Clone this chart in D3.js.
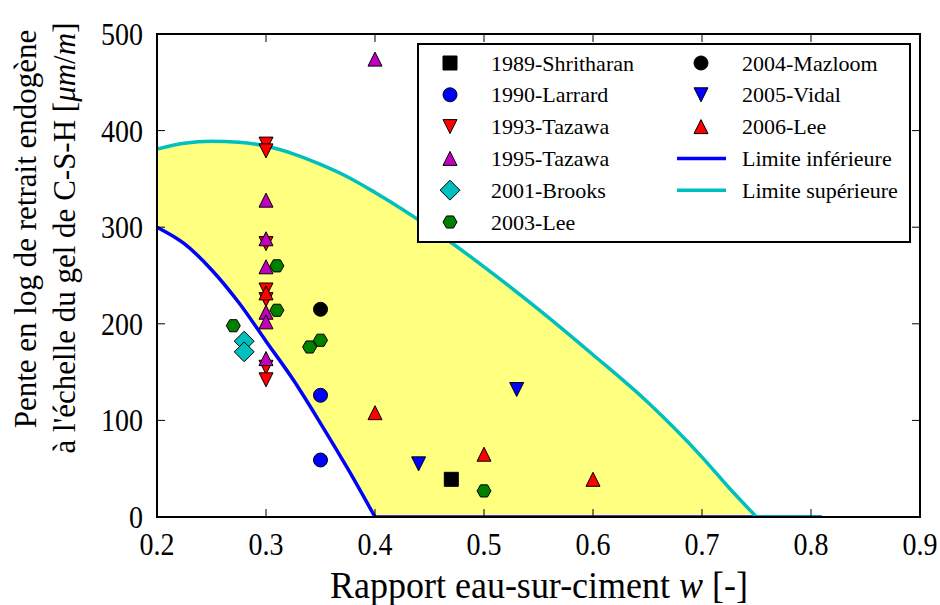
<!DOCTYPE html>
<html>
<head>
<meta charset="utf-8">
<script src="https://cdn.jsdelivr.net/npm/d3@7"></script>
<style>
	body { margin: 0; background: #fff; }
</style>
</head>
<body>
<div class="chart"></div>
<script>
// limits
const wGrid = [0.2, 0.225, 0.25, 0.275, 0.3, 0.325, 0.35, 0.375, 0.4, 0.45, 0.5, 0.55, 0.6, 0.65, 0.7, 0.725, 0.75, 0.81];
const limiteInf = [300, 283, 256, 222, 182, 142, 97, 50, 0, 0, 0, 0, 0, 0, 0, 0, 0, 0];
const limiteSup = [381, 387, 389, 388, 384, 376, 365, 352, 336, 300, 259, 215, 168, 119, 62, 30, 0, 0];

const xTicks = [0.2, 0.3, 0.4, 0.5, 0.6, 0.7, 0.8, 0.9];
const yTicks = [0, 100, 200, 300, 400, 500];

// measured points [w, pente]
const shritharan1989 = [[0.47, 39]];
const larrard1990 = [[0.35, 126], [0.35, 59]];
const tazawa1993 = [[0.3, 386], [0.3, 379], [0.3, 283], [0.3, 235], [0.3, 225], [0.3, 155], [0.3, 142]];
const tazawa1995 = [[0.4, 474], [0.3, 328], [0.3, 288], [0.3, 259], [0.3, 212], [0.3, 202], [0.3, 164]];
const brooks2001 = [[0.28, 182], [0.28, 171]];
const lee2003 = [[0.31, 260], [0.31, 214], [0.27, 198], [0.35, 183], [0.34, 176], [0.5, 27]];
const mazloom2004 = [[0.35, 215]];
const vidal2005 = [[0.53, 132], [0.44, 55]];
const lee2006 = [[0.3, 232], [0.4, 108], [0.5, 65], [0.6, 39]];

(function () {
	drawChart();
}());

// marker shapes, size = full width in px
function markerPath(kind, s) {
	const h = s / 2;
	const p = d3.path();
	if (kind === "square") {
		p.rect(-h, -h, s, s);
	} else if (kind === "circle") {
		p.moveTo(h, 0);
		p.arc(0, 0, h, 0, 2 * Math.PI);
	} else if (kind === "triUp") {
		p.moveTo(0, -h); p.lineTo(h, h); p.lineTo(-h, h); p.closePath();
	} else if (kind === "triDown") {
		p.moveTo(0, h); p.lineTo(h, -h); p.lineTo(-h, -h); p.closePath();
	} else if (kind === "diamond") {
		const d = s * 0.71;
		p.moveTo(0, -d); p.lineTo(d, 0); p.lineTo(0, d); p.lineTo(-d, 0); p.closePath();
	} else if (kind === "hexagon") {
		for (let i = 0; i < 6; i++) {
			const a = i * Math.PI / 3;
			if (i === 0) p.moveTo(h * Math.cos(a), h * Math.sin(a));
			else p.lineTo(h * Math.cos(a), h * Math.sin(a));
		}
		p.closePath();
	}
	return p.toString();
}

function drawChart() {

	const widthSVG = 940,
		heightSVG = 605;
	const plot = {left: 157, right: 920, top: 34, bottom: 517};
	const markerSize = 14;
	const serif = "'Liberation Serif', 'DejaVu Serif', serif";
	// the axis texts of the original are drawn a bit tall and narrow
	const stretch = 1.15;

	const series = [
		{name: "1989-Shritharan", data: shritharan1989, shape: "square", color: "#000000"},
		{name: "1990-Larrard", data: larrard1990, shape: "circle", color: "#0000ff"},
		{name: "1993-Tazawa", data: tazawa1993, shape: "triDown", color: "#ff0000"},
		{name: "1995-Tazawa", data: tazawa1995, shape: "triUp", color: "#bf00bf"},
		{name: "2001-Brooks", data: brooks2001, shape: "diamond", color: "#00bfbf"},
		{name: "2003-Lee", data: lee2003, shape: "hexagon", color: "#008000"},
		{name: "2004-Mazloom", data: mazloom2004, shape: "circle", color: "#000000"},
		{name: "2005-Vidal", data: vidal2005, shape: "triDown", color: "#0000ff"},
		{name: "2006-Lee", data: lee2006, shape: "triUp", color: "#ff0000"}
	];

	const svg = d3.select(".chart").append("svg")
		.attr("width", widthSVG)
		.attr("height", heightSVG)
		.attr("font-family", serif);

	const x = d3.scaleLinear().domain([0.2, 0.9]).range([plot.left, plot.right]);
	const y = d3.scaleLinear().domain([0, 500]).range([plot.bottom, plot.top]);

	svg.append("clipPath").attr("id", "plotClip")
		.append("rect")
		.attr("x", plot.left).attr("y", plot.top)
		.attr("width", plot.right - plot.left).attr("height", plot.bottom - plot.top);

	const chart = svg.append("g").attr("clip-path", "url(#plotClip)");

	// split each limit into its curved part and the flat part at zero
	function split(values) {
		const pts = wGrid.map(function (w, i) { return [w, values[i]]; });
		const k = values.indexOf(0);
		return {curved: pts.slice(0, k + 1), flat: pts.slice(k)};
	}
	const inf = split(limiteInf);
	const sup = split(limiteSup);

	const curve = d3.line()
		.x(function (d) { return x(d[0]); })
		.y(function (d) { return y(d[1]); })
		.curve(d3.curveMonotoneX);
	const straight = d3.line()
		.x(function (d) { return x(d[0]); })
		.y(function (d) { return y(d[1]); });
	const under = d3.area()
		.x(function (d) { return x(d[0]); })
		.y0(y(0))
		.y1(function (d) { return y(d[1]); })
		.curve(d3.curveMonotoneX);

	// yellow band = under the upper limit minus under the lower limit
	chart.append("path").attr("d", under(sup.curved)).attr("fill", "#ffff80");
	chart.append("path").attr("d", under(inf.curved)).attr("fill", "#ffffff");

	chart.append("path")
		.attr("d", curve(inf.curved) + straight(inf.flat).replace(/^M/, "L"))
		.attr("fill", "none").attr("stroke", "#0000ff").attr("stroke-width", 3.5);
	chart.append("path")
		.attr("d", curve(sup.curved) + straight(sup.flat).replace(/^M/, "L"))
		.attr("fill", "none").attr("stroke", "#00bfbf").attr("stroke-width", 3.5);

	series.forEach(function (s) {
		chart.selectAll(null)
			.data(s.data)
			.enter().append("path")
			.attr("d", markerPath(s.shape, markerSize))
			.attr("transform", function (d) { return "translate(" + x(d[0]) + "," + y(d[1]) + ")"; })
			.attr("fill", s.color)
			.attr("stroke", "#000")
			.attr("stroke-width", 1);
	});

	// ticks inside on all four sides
	const tickLen = 8;
	const ticks = svg.append("g").attr("stroke", "#000").attr("stroke-width", 1);
	xTicks.forEach(function (t) {
		ticks.append("line").attr("x1", x(t)).attr("x2", x(t)).attr("y1", plot.bottom).attr("y2", plot.bottom - tickLen);
		ticks.append("line").attr("x1", x(t)).attr("x2", x(t)).attr("y1", plot.top).attr("y2", plot.top + tickLen);
	});
	yTicks.forEach(function (t) {
		ticks.append("line").attr("x1", plot.left).attr("x2", plot.left + tickLen).attr("y1", y(t)).attr("y2", y(t));
		ticks.append("line").attr("x1", plot.right).attr("x2", plot.right - tickLen).attr("y1", y(t)).attr("y2", y(t));
	});

	svg.append("rect")
		.attr("x", plot.left).attr("y", plot.top)
		.attr("width", plot.right - plot.left).attr("height", plot.bottom - plot.top)
		.attr("fill", "none").attr("stroke", "#000").attr("stroke-width", 2);

	// tick labels
	svg.selectAll(".xlab")
		.data(xTicks)
		.enter().append("text")
		.attr("class", "xlab")
		.attr("transform", function (d) { return "translate(" + x(d) + ",555) scale(1," + stretch + ")"; })
		.attr("text-anchor", "middle")
		.attr("font-size", 28)
		.text(function (d) { return d3.format(".1f")(d); });

	svg.selectAll(".ylab")
		.data(yTicks)
		.enter().append("text")
		.attr("class", "ylab")
		.attr("transform", function (d) { return "translate(143," + (y(d) + 11) + ") scale(1," + stretch + ")"; })
		.attr("text-anchor", "end")
		.attr("font-size", 28)
		.text(function (d) { return d; });

	// axis titles
	const xTitle = svg.append("text")
		.attr("transform", "translate(539,597.5) scale(1,1.08)")
		.attr("text-anchor", "middle")
		.attr("font-size", 36);
	xTitle.append("tspan").text("Rapport eau-sur-ciment ");
	xTitle.append("tspan").attr("font-style", "italic").text("w");
	xTitle.append("tspan").text(" [-]");

	svg.append("text")
		.attr("transform", "translate(36,229) rotate(-90)")
		.attr("text-anchor", "middle")
		.attr("font-size", 31)
		.text("Pente en log de retrait endogène");
	const yTitle = svg.append("text")
		.attr("transform", "translate(75,238) rotate(-90)")
		.attr("text-anchor", "middle")
		.attr("font-size", 31);
	yTitle.append("tspan").text("à l'échelle du gel de C-S-H [");
	yTitle.append("tspan").attr("font-style", "italic").text("μm");
	yTitle.append("tspan").text("/");
	yTitle.append("tspan").attr("font-style", "italic").text("m");
	yTitle.append("tspan").text("]");

	// legend
	const legend = svg.append("g");
	legend.append("rect")
		.attr("x", 418).attr("y", 44)
		.attr("width", 492).attr("height", 198)
		.attr("fill", "#fff").attr("stroke", "#000").attr("stroke-width", 2);

	const rowY = function (i) { return 63 + i * 31.8; };
	const entries = series.map(function (s) { return {name: s.name, shape: s.shape, color: s.color}; });
	entries.push({name: "Limite inférieure", line: "#0000ff"});
	entries.push({name: "Limite supérieure", line: "#00bfbf"});

	entries.forEach(function (e, i) {
		const col = i < 6 ? 0 : 1;
		const row = i < 6 ? i : i - 6;
		const mx = col === 0 ? 450 : 701;
		const tx = col === 0 ? 491 : 742;
		const cy = rowY(row);
		if (e.line) {
			legend.append("line")
				.attr("x1", mx - 24).attr("x2", mx + 25)
				.attr("y1", cy).attr("y2", cy)
				.attr("stroke", e.line).attr("stroke-width", 3.5);
		} else {
			legend.append("path")
				.attr("d", markerPath(e.shape, markerSize))
				.attr("transform", "translate(" + mx + "," + cy + ")")
				.attr("fill", e.color).attr("stroke", "#000").attr("stroke-width", 1);
		}
		legend.append("text")
			.attr("x", tx).attr("y", cy + 7.5)
			.attr("font-size", 22)
			.text(e.name);
	});
}
</script>
</body>
</html>
